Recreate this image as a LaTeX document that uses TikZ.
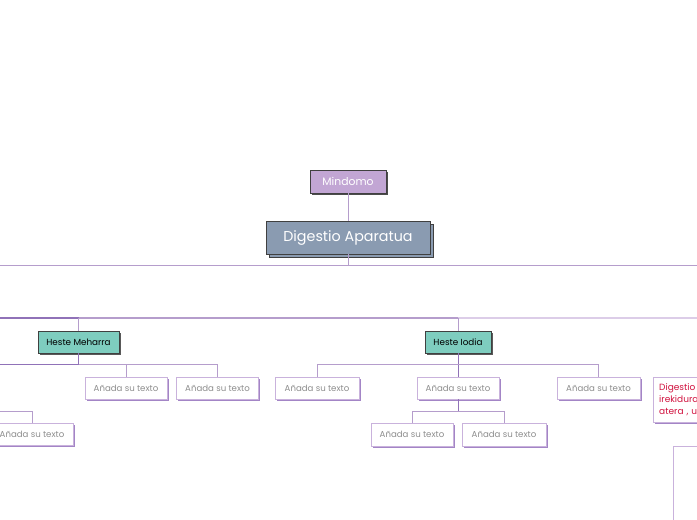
\documentclass[tikz,border=0pt]{standalone}
\usepackage{fontspec}
\setmainfont{Poppins}
\usetikzlibrary{shadows}

\definecolor{lila}{HTML}{C2A6D4}
\definecolor{arbela}{HTML}{8A9BB1}
\definecolor{heste}{HTML}{7ECDBF}
\definecolor{lerro}{HTML}{B59DCC}
\definecolor{lerroil}{HTML}{9072B8}
\definecolor{lerroarg}{HTML}{DCCDE8}
\definecolor{ertz}{HTML}{C9B2DC}
\definecolor{itzal}{HTML}{A385C6}
\definecolor{grisa}{HTML}{8E8E8E}
\definecolor{gorria}{HTML}{D1123F}

\begin{document}
\begin{tikzpicture}[x=1pt, y=-1pt,
  conn/.style={draw=lerro, line width=0.9pt},
  mindo/.style={draw=black!75, fill=lila, text=white, inner sep=0pt,
    minimum width=76pt, minimum height=23pt, font=\fontsize{10.8}{12}\selectfont,
    copy shadow={shadow xshift=2pt, shadow yshift=-2pt, draw=none, fill=black!70}},
  root/.style={draw=black!75, fill=arbela, text=white, inner sep=0pt,
    minimum width=164pt, minimum height=33pt, font=\fontsize{14.3}{16}\selectfont,
    copy shadow={shadow xshift=3pt, shadow yshift=-3pt, draw=black!75, fill=arbela}},
  hestebox/.style={draw=black!75, fill=heste, text=black, inner sep=0pt,
    minimum height=22pt, font=\fontsize{8.8}{10}\selectfont,
    copy shadow={shadow xshift=2pt, shadow yshift=-2pt, draw=none, fill=black!65}},
  leaf/.style={draw=ertz, fill=white, text=grisa, inner sep=0pt,
    minimum width=82pt, minimum height=22pt, font=\fontsize{8.6}{10}\selectfont,
    copy shadow={shadow xshift=1.8pt, shadow yshift=-1.8pt, draw=none, fill=itzal}}
]

\useasboundingbox (0,0) rectangle (697,520);
\clip (0,0) rectangle (697,520);

% top
\node[mindo] (mindomo) at (348,181.5) {Mindomo};
\node[root] (digestio) at (348,237.5) {Digestio Aparatua};

% branches
\node[hestebox, minimum width=81pt] (meharra) at (78.5,342) {Heste Meharra};
\node[hestebox, minimum width=66pt] (iodia) at (458,342) {Heste Iodia};

% leaves
\node[leaf] (a0) at (32,434.5) {Añada su texto};
\node[leaf] (a1) at (126,388) {Añada su texto};
\node[leaf] (a2) at (217.5,388) {Añada su texto};
\node[leaf, minimum width=84pt] (b1) at (317,388) {Añada su texto};
\node[leaf] (b2) at (458,388) {Añada su texto};
\node[leaf, minimum width=83pt] (b3) at (598.5,388) {Añada su texto};
\node[leaf, minimum height=23pt] (b21) at (412,434.5) {Añada su texto};
\node[leaf, minimum width=84pt, minimum height=23pt] (b22) at (504,434.5) {Añada su texto};

\node[leaf, anchor=north west, text=gorria, align=left, text width=110pt,
  minimum height=45pt, inner sep=6pt, font=\fontsize{9}{12}\selectfont]
  (gorri) at (653,377) {Digestio\\irekidura\\atera , u};
\node[draw=ertz, fill=white, anchor=north west, minimum width=60pt,
  minimum height=100pt, line width=0.8pt] (oharra) at (673,446) {};

% edge coordinates
\coordinate (h1l) at (0,265);
\coordinate (h1r) at (697,265);
\coordinate (h2l) at (0,318);
\coordinate (h2r) at (697,318);
\coordinate (h3l) at (0,364);
\coordinate (h4l) at (0,411);

% lines
\draw[conn] (mindomo) -- (digestio);
\draw[conn] (digestio.south) -- (digestio.south |- h1l);
\draw[conn] (h1l) -- (h1r);

\draw[conn, draw=lerroil, line width=1.2pt] (h2l) -- (meharra.north |- h2l);
\draw[conn, line width=1.2pt] (meharra.north |- h2l) -- (iodia.north |- h2l);
\draw[conn, draw=lerroarg, line width=1.2pt] (iodia.north |- h2l) -- (h2r);
\draw[conn] (meharra.north |- h2l) -- (meharra.north);
\draw[conn] (iodia.north |- h2l) -- (iodia.north);

\draw[conn, draw=lerroil] (meharra.south) -- (meharra.south |- h3l) coordinate (mbus);
\draw[conn, draw=lerroil] (mbus) -- (h3l);
\foreach \c in {a1,a2}
  \draw[conn] (mbus) -| (\c.north);
\draw[conn] (h4l) -| (a0.north);

\draw[conn, draw=lerroil] (iodia.south) -- (b2.north);
\foreach \c in {b1,b3}
  \draw[conn] (iodia.south |- h3l) -| (\c.north);
\draw[conn, draw=lerroil] (b2.south) -- (b2.south |- h4l) coordinate (bbus);
\foreach \c in {b21,b22}
  \draw[conn] (bbus) -| (\c.north);

\end{tikzpicture}
\end{document}
